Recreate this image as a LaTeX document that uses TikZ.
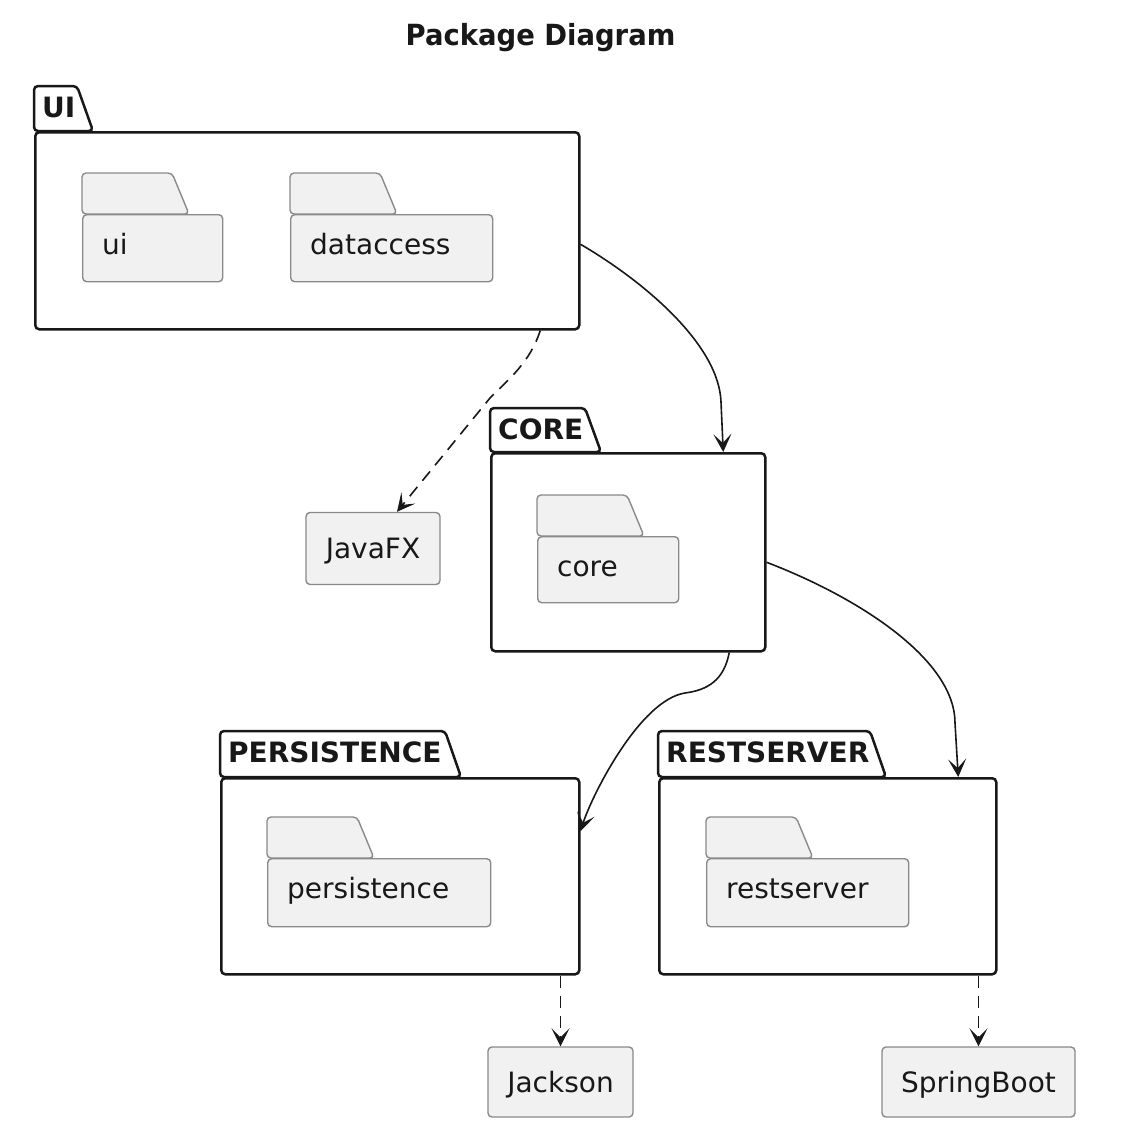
\documentclass[tikz,border=0pt]{standalone}
\usepackage{fontspec}
\setmainfont{DejaVu Sans}
\usetikzlibrary{arrows.meta,calc}
\definecolor{ink}{HTML}{181818}
\definecolor{boxfill}{HTML}{F1F1F1}
\definecolor{boxline}{HTML}{8A8A8A}
\tikzset{
  txt/.style={font=\fontsize{28}{32}\selectfont, text=ink, inner sep=0pt},
  btxt/.style={font=\fontsize{28}{32}\selectfont\bfseries, text=ink, inner sep=0pt},
  pkgbody/.style={draw=ink, line width=2.5pt, rounded corners=4pt, fill=white, inner sep=0pt, anchor=north west},
  pkgtab/.style={draw=ink, line width=2.5pt, rounded corners=4pt, fill=white},
  fldbody/.style={draw=boxline, line width=1.4pt, rounded corners=4pt, fill=boxfill, inner sep=0pt, anchor=north west},
  fldtab/.style={draw=boxline, line width=1.4pt, rounded corners=4pt, fill=boxfill},
  libbox/.style={draw=boxline, line width=1.4pt, rounded corners=4pt, fill=boxfill, inner sep=0pt,
    font=\fontsize{28}{32}\selectfont, text=ink, text height=20pt, text depth=0pt},
  conn/.style={draw=ink, line width=1.6pt, -{Stealth[length=18pt,width=18pt,inset=9pt]}},
  dconn/.style={conn, dash pattern=on 12pt off 8pt},
}
% name, L, T, R, B, W, H, label
\newcommand{\mkpkg}[8]{%
  \path[pkgtab] (#2,#5) -- (#2,#3) -- (#4,#3) -- (#4+16,#5) -- cycle;
  \node[pkgbody, minimum width={(#6-#2)*1pt}, minimum height={(#7-#5)*1pt}] (#1) at (#2,#5) {};
  \node[btxt, anchor=base west] (#1lbl) at (#2+8,#3+31) {#8};
}
% name, L, T, W, H, label   (tab width 90, tab height 41)
\newcommand{\mkfld}[6]{%
  \path[fldtab] (#2,#3+41) -- (#2,#3) -- (#2+90,#3) -- (#2+107,#3+41) -- cycle;
  \node[fldbody, minimum width={(#4-#2)*1pt}, minimum height={(#5-#3-41)*1pt}] (#1) at (#2,#3+41) {};
  \node[txt, anchor=base west] (#1lbl) at (#2+20,#3+81) {#6};
}
\begin{document}
\begin{tikzpicture}[x=1pt,y=-1pt]
\useasboundingbox[fill=white] (0,0) rectangle (1126,1138);

\node[btxt, anchor=base] (title) at (540.5,45) {\scalebox{0.98}[1.04]{Package Diagram}};

% packages
\mkpkg{UI}{34}{86}{77}{131}{578}{328}{UI}
\mkfld{uif}{82}{173}{222}{281}{ui}
\mkfld{dataccess}{290}{173}{492}{281}{dataccess}

\mkpkg{CORE}{490}{408}{585}{452}{764}{650}{CORE}
\mkfld{coref}{537}{495}{678}{602}{core}

\mkpkg{PERS}{220}{731}{445}{777}{578}{973}{PERSISTENCE}
\mkfld{persf}{267}{817}{490}{926}{persistence}

\mkpkg{REST}{658}{731}{870}{777}{995}{973}{RESTSERVER}
\mkfld{restf}{706}{817}{908}{926}{restserver}

% libraries
\node[libbox, minimum width=134pt, minimum height=72pt] (JavaFX) at (373,548.5) {JavaFX};
\node[libbox, minimum width=145pt, minimum height=70pt] (Jackson) at (560.5,1082) {Jackson};
\node[libbox, minimum width=193pt, minimum height=70pt] (SpringBoot) at (978.5,1082) {SpringBoot};

% connectors
\draw[conn] ([yshift=-13.5pt]UI.east) .. controls (645,282) and (719,345) .. (721,402) -- ([xshift=95pt]CORE.north);
\draw[dconn] ([xshift=233pt]UI.south) .. controls (530,362) and (510,378) .. (490,398) -- ([xshift=24pt]JavaFX.north);
\draw[conn] ([xshift=101pt]CORE.south) .. controls (724,680) and (708,690) .. (685,693) .. controls (640,700) and (592,795) .. ([yshift=45pt]PERS.east);
\draw[conn] ([yshift=-10pt]CORE.east) .. controls (860,598) and (955,660) .. (955,723) -- ([xshift=130.5pt]REST.north);
\draw[dconn] (Jackson.north |- PERS.south) -- (Jackson.north);
\draw[dconn] (SpringBoot.north |- REST.south) -- (SpringBoot.north);
\end{tikzpicture}
\end{document}
